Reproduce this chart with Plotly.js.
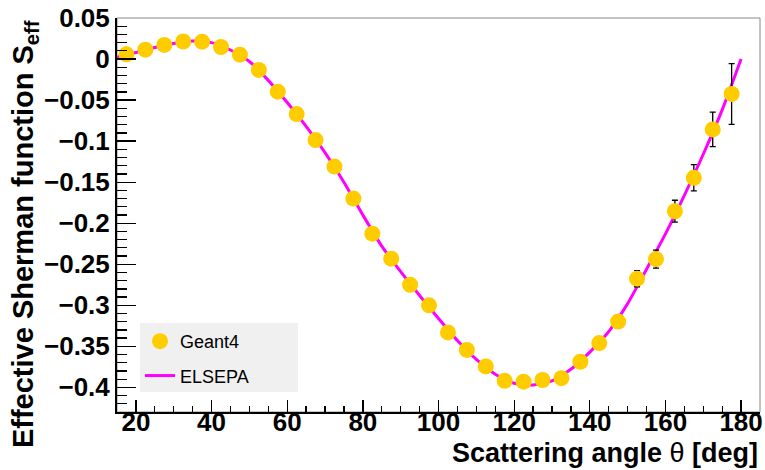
<!DOCTYPE html>
<html>
<head>
<meta charset="utf-8">
<script src="https://cdn.plot.ly/plotly-3.0.1.min.js"></script>
<style>html,body{margin:0;padding:0;background:#fff;}#chart{width:765px;height:470px;}</style>
</head>
<body>
<div id="chart"></div>
<script>
// Geant4 simulated points (scattering angle in deg, effective Sherman function)
var geantAngle = [17.5, 22.5, 27.5, 32.5, 37.5, 42.5, 47.5, 52.5, 57.5, 62.5, 67.5, 72.5, 77.5, 82.5, 87.5, 92.5, 97.5,
  102.5, 107.5, 112.5, 117.5, 122.5, 127.5, 132.5, 137.5, 142.5, 147.5, 152.5, 157.5, 162.5, 167.5, 172.5, 177.5];
var geantS = [0.0057, 0.0114, 0.0172, 0.0214, 0.0212, 0.0147, 0.0053, -0.0132, -0.0397, -0.067, -0.0987, -0.131, -0.170,
  -0.2127, -0.2432, -0.275, -0.300, -0.333, -0.3544, -0.3745, -0.392, -0.393, -0.391, -0.3888, -0.3688, -0.346, -0.3198,
  -0.2676, -0.2437, -0.1854, -0.1447, -0.0857, -0.0425];
var geantErr = [0.002, 0.002, 0.002, 0.002, 0.002, 0.002, 0.002, 0.002, 0.002, 0.002, 0.002, 0.002, 0.002, 0.002, 0.003,
  0.003, 0.003, 0.003, 0.003, 0.003, 0.003, 0.003, 0.004, 0.004, 0.004, 0.005, 0.006, 0.0098, 0.011, 0.0134, 0.016, 0.021, 0.037];

// ELSEPA calculation
var elsepaAngle = [15, 20, 25, 30, 35, 40, 45, 50, 55, 60, 65, 70, 75, 80, 85, 90, 95, 100, 105, 110, 115, 120,
  125, 130, 135, 140, 145, 150, 155, 160, 165, 170, 175, 180];
var elsepaS = [0.002, 0.008, 0.014, 0.019, 0.022, 0.020, 0.011, -0.003, -0.026, -0.053, -0.082, -0.114, -0.150, -0.190,
  -0.228, -0.259, -0.288, -0.316, -0.343, -0.366, -0.384, -0.395, -0.397, -0.392, -0.378, -0.357, -0.332, -0.298,
  -0.256, -0.213, -0.166, -0.116, -0.062, 0.000];

var FONT = 'Liberation Sans, Arial, Helvetica, sans-serif';

var traces = [
  {
    x: elsepaAngle, y: elsepaS, type: 'scatter', mode: 'lines', name: 'ELSEPA',
    line: {color: '#ff00ff', width: 3, shape: 'spline', smoothing: 0.6},
    legendgroup: 'b', legendrank: 2, cliponaxis: true
  },
  {
    x: geantAngle, y: geantS, type: 'scatter', mode: 'markers', name: 'Geant4',
    marker: {color: '#ffcc00', size: 16, line: {width: 0}},
    error_y: {type: 'data', array: geantErr, visible: true, color: '#000', thickness: 1.3, width: 3},
    legendgroup: 'a', legendrank: 1, cliponaxis: false
  }
];

var layout = {
  width: 765, height: 470,
  margin: {l: 117, r: 5, t: 18, b: 58},
  paper_bgcolor: '#fff', plot_bgcolor: '#fff',
  font: {family: FONT, color: '#000'},
  showlegend: true,
  legend: {
    x: 0.0358, y: 0.226, xanchor: 'left', yanchor: 'top',
    bgcolor: 'rgba(0,0,0,0)', borderwidth: 0,
    font: {family: FONT, size: 18, color: '#000'},
    traceorder: 'grouped', tracegroupgap: 8
  },
  xaxis: {
    range: [15, 185], tick0: 0, dtick: 20, ticks: 'inside', ticklen: 12, tickwidth: 1.3, tickcolor: '#000',
    showline: true, linecolor: '#000', linewidth: 2, showgrid: false, zeroline: false,
    tickfont: {family: FONT, size: 26, weight: 'bold', color: '#000'},
    ticklabelstandoff: -14,
    minor: {dtick: 5, ticks: 'inside', ticklen: 6, tickwidth: 1.3, tickcolor: '#000', showgrid: false}
  },
  yaxis: {
    range: [-0.43, 0.05], tick0: 0, dtick: 0.05, ticks: 'inside', ticklen: 19, tickwidth: 1.3, tickcolor: '#000',
    showline: true, linecolor: '#000', linewidth: 2, showgrid: false, zeroline: false,
    tickfont: {family: FONT, size: 26, weight: 'bold', color: '#000'},
    minor: {dtick: 0.01, ticks: 'inside', ticklen: 10, tickwidth: 1.3, tickcolor: '#000', showgrid: false}
  },
  shapes: [
    {type: 'rect', xref: 'paper', yref: 'paper', x0: 0, x1: 1, y0: 0, y1: 1,
     line: {color: '#888', width: 1}, layer: 'below'},
    {type: 'rect', xref: 'paper', yref: 'paper', x0: 0.0358, x1: 0.2815, y0: 0.0508, y1: 0.2259,
     fillcolor: '#f0f0f0', line: {width: 0}, layer: 'below'}
  ],
  annotations: [
    {text: 'Scattering angle <span style="font-weight:normal">θ</span> [deg]', xref: 'paper', yref: 'paper', x: 1, y: -0.104,
     xanchor: 'right', yanchor: 'middle', showarrow: false,
     font: {family: FONT, size: 27, weight: 'bold', color: '#000'}},
    {text: 'Effective Sherman function S<sub>eff</sub>', xref: 'paper', yref: 'paper', x: -0.143, y: 1.0,
     xanchor: 'center', yanchor: 'top', textangle: -90, showarrow: false,
     font: {family: FONT, size: 29, weight: 'bold', color: '#000'}}
  ]
};

Plotly.newPlot('chart', traces, layout, {displayModeBar: false, staticPlot: true});
</script>
</body>
</html>
